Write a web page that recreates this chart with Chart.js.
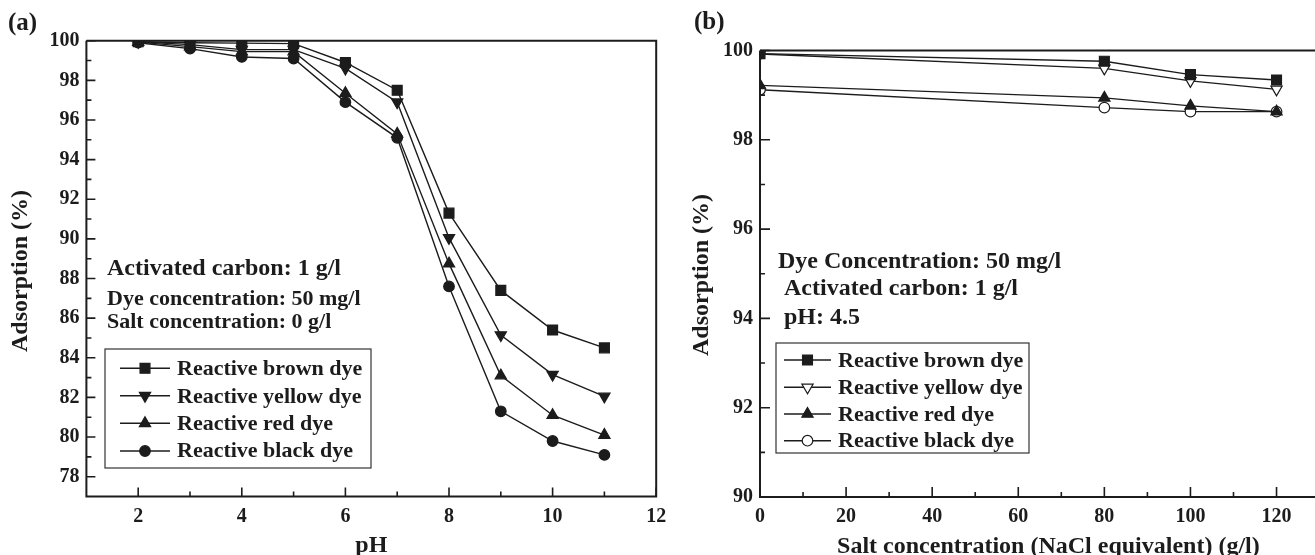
<!DOCTYPE html>
<html><head><meta charset="utf-8">
<script src="https://cdn.jsdelivr.net/npm/chart.js@4.4.0/dist/chart.umd.min.js"></script>
<style>
html,body{margin:0;padding:0;background:#fff;overflow:hidden;width:1315px;height:555px;}
canvas{position:absolute;top:0;}
#cA{left:0;}
#cB{left:690px;}
</style></head><body>
<canvas id="cA" width="680" height="555"></canvas>
<canvas id="cB" width="655" height="555"></canvas>
<script>
const FONT = "'Liberation Serif','Times New Roman',serif";
const INK = '#1c1c1c';

// ---- data ----
const seriesNames = ['Reactive brown dye','Reactive yellow dye','Reactive red dye','Reactive black dye'];

// panel (a): adsorption vs pH
const pHValues = [2,3,4,5,6,7,8,9,10,11];
const brownA  = [99.95,99.90,99.88,99.85,98.90,97.50,91.30,87.40,85.40,84.50];
const yellowA = [99.95,99.80,99.55,99.55,98.60,96.90,90.05,85.15,83.15,82.05];
const redA    = [99.93,99.70,99.45,99.45,97.35,95.30,88.75,83.10,81.10,80.10];
const blackA  = [99.90,99.60,99.18,99.10,96.90,95.10,87.60,81.30,79.80,79.10];

// panel (b): adsorption vs salt concentration
const saltValues = [0,80,100,120];
const brownB  = [99.93,99.76,99.46,99.34];
const yellowB = [99.92,99.60,99.32,99.13];
const redB    = [99.22,98.94,98.76,98.63];
const blackB  = [99.12,98.72,98.63,98.63];

// tick labels
const xTicksA = [2,4,6,8,10,12];
const xMinorA = [3,5,7,9,11];
const yTicksA = [78,80,82,84,86,88,90,92,94,96,98,100];
const yMinorA = [79,81,83,85,87,89,91,93,95,97,99];
const xTicksB = [0,20,40,60,80,100,120];
const xMinorB = [10,30,50,70,90,110,130];
const yTicksB = [90,92,94,96,98,100];
const yMinorB = [91,93,95,97,99];

// ---- styles ----
const stylesA = [
  {pointStyle:'rect', rotation:0, radius:7, fill:INK},
  {pointStyle:'triangle', rotation:180, radius:6.5, fill:INK},
  {pointStyle:'triangle', rotation:0, radius:6.5, fill:INK},
  {pointStyle:'circle', rotation:0, radius:5.3, fill:INK}
];
const stylesB = [
  {pointStyle:'rect', rotation:0, radius:7, fill:INK},
  {pointStyle:'triangle', rotation:180, radius:6.5, fill:'#ffffff'},
  {pointStyle:'triangle', rotation:0, radius:6.5, fill:INK},
  {pointStyle:'circle', rotation:0, radius:5.3, fill:'#ffffff'}
];

function makeDatasets(xs, seriesList, styles){
  return seriesList.map((arr,i)=>({
    label: seriesNames[i],
    data: xs.map((x,j)=>({x:x, y:arr[j]})),
    borderColor: INK, borderWidth: 1.4, tension: 0, fill: false,
    pointStyle: styles[i].pointStyle, pointRotation: styles[i].rotation,
    pointRadius: styles[i].radius, pointHoverRadius: styles[i].radius,
    pointBackgroundColor: styles[i].fill, pointBorderColor: INK, pointBorderWidth: 1.2,
    clip: 0
  }));
}

function drawMarker(ctx, st, x, y){
  const r = st.radius;
  ctx.beginPath();
  if (st.pointStyle === 'rect') {
    const s = Math.SQRT1_2 * r; ctx.rect(x-s, y-s, 2*s, 2*s);
  } else if (st.pointStyle === 'triangle') {
    let rad = st.rotation*Math.PI/180;
    for (let k=0;k<3;k++){
      const px = x + Math.sin(rad)*r, py = y - Math.cos(rad)*r;
      if (k===0) ctx.moveTo(px,py); else ctx.lineTo(px,py);
      rad += 2*Math.PI/3;
    }
    ctx.closePath();
  } else {
    ctx.arc(x, y, r, 0, 2*Math.PI);
  }
  ctx.fillStyle = st.fill; ctx.fill();
  ctx.strokeStyle = INK; ctx.lineWidth = 1.2; ctx.stroke();
}

function panelPlugin(cfg){
  return {
    id: 'panel' + cfg.id,
    afterDraw(chart){
      const ctx = chart.ctx, a = chart.chartArea, xs = chart.scales.x, ys = chart.scales.y;
      ctx.save();
      // frame
      ctx.strokeStyle = INK; ctx.lineWidth = 2;
      ctx.beginPath();
      ctx.moveTo(a.left, a.top); ctx.lineTo(a.left, a.bottom); ctx.lineTo(a.right, a.bottom);
      if (cfg.rightBorder) { ctx.lineTo(a.right, a.top); ctx.lineTo(a.left, a.top); }
      else { ctx.moveTo(a.left, a.top); ctx.lineTo(a.right, a.top); }
      ctx.stroke();
      // ticks (inward)
      ctx.lineWidth = 1.6;
      ctx.beginPath();
      cfg.xMajor.forEach(v=>{ const p = xs.getPixelForValue(v); ctx.moveTo(p, a.bottom); ctx.lineTo(p, a.bottom - cfg.majorLen); });
      cfg.xMinor.forEach(v=>{ const p = xs.getPixelForValue(v); if (p < a.right) { ctx.moveTo(p, a.bottom); ctx.lineTo(p, a.bottom - cfg.minorLen); } });
      cfg.yMajor.forEach(v=>{ const p = ys.getPixelForValue(v); ctx.moveTo(a.left, p); ctx.lineTo(a.left + cfg.majorLen, p); });
      cfg.yMinor.forEach(v=>{ const p = ys.getPixelForValue(v); ctx.moveTo(a.left, p); ctx.lineTo(a.left + cfg.minorLen, p); });
      ctx.stroke();
      // axis titles
      ctx.fillStyle = INK;
      ctx.font = `bold ${cfg.titleSize}px ${FONT}`;
      ctx.textAlign = 'center'; ctx.textBaseline = 'alphabetic';
      ctx.fillText(cfg.xTitle, (a.left + a.right)/2, cfg.xTitleY);
      ctx.save();
      ctx.translate(cfg.yTitleX, cfg.yTitleY); ctx.rotate(-Math.PI/2);
      ctx.textBaseline = 'middle';
      ctx.fillText(cfg.yTitle, 0, 0);
      ctx.restore();
      // panel label
      ctx.textAlign = 'left'; ctx.textBaseline = 'alphabetic';
      ctx.font = `bold ${cfg.labelSize}px ${FONT}`;
      ctx.fillText(cfg.label, cfg.labelX, cfg.labelY);
      // notes
      cfg.notes.forEach(n=>{ ctx.font = `bold ${n.size}px ${FONT}`; ctx.fillText(n.text, n.x, n.y); });
      // legend
      const L = cfg.legend;
      ctx.lineWidth = 1.2; ctx.strokeStyle = '#333';
      ctx.strokeRect(L.x, L.y, L.w, L.h);
      chart.data.datasets.forEach((ds,i)=>{
        const my = L.markY[i];
        ctx.strokeStyle = INK; ctx.lineWidth = 1.4;
        ctx.beginPath(); ctx.moveTo(L.line0, my); ctx.lineTo(L.line1, my); ctx.stroke();
        drawMarker(ctx, cfg.styles[i], L.markX, my);
        ctx.fillStyle = INK; ctx.font = `bold ${L.size}px ${FONT}`;
        ctx.textAlign = 'left'; ctx.textBaseline = 'alphabetic';
        ctx.fillText(ds.label, L.textX, L.baseY[i]);
      });
      ctx.restore();
    }
  };
}

function makeChart(canvasId, cfg){
  const tickFont = {family: FONT, weight: 'bold', size: cfg.tickSize};
  return new Chart(document.getElementById(canvasId), {
    type: 'line',
    data: { datasets: makeDatasets(cfg.xs, cfg.series, cfg.styles) },
    options: {
      responsive: false, animation: false, events: [],
      layout: { padding: { left: 0, top: cfg.padTop, right: cfg.padRight, bottom: 0 } },
      plugins: { legend: {display:false}, tooltip: {enabled:false} },
      scales: {
        x: {
          type: 'linear', min: cfg.xMin, max: cfg.xMax,
          afterFit(s){ s.height = cfg.xAxisH; },
          afterBuildTicks(s){ s.ticks = cfg.xMajor.map(v=>({value:v})); },
          grid: {display:false, drawTicks:false}, border: {display:false},
          ticks: {font: tickFont, color: INK, padding: cfg.xPad, maxRotation: 0, autoSkip: false}
        },
        y: {
          type: 'linear', min: cfg.yMin, max: cfg.yMax,
          afterFit(s){ s.width = cfg.yAxisW; },
          afterBuildTicks(s){ s.ticks = cfg.yMajor.map(v=>({value:v})); },
          grid: {display:false, drawTicks:false}, border: {display:false},
          ticks: {font: tickFont, color: INK, padding: cfg.yPad, autoSkip: false}
        }
      }
    },
    plugins: [panelPlugin(cfg)]
  });
}

makeChart('cA', {
  id: 'A', xs: pHValues, series: [brownA, yellowA, redA, blackA], styles: stylesA,
  xMin: 1, xMax: 12, yMin: 77, yMax: 100,
  xMajor: xTicksA, xMinor: xMinorA, yMajor: yTicksA, yMinor: yMinorA,
  padTop: 40.7, padRight: 23.8, xAxisH: 58.5, yAxisW: 86.4,
  tickSize: 20, xPad: 8, yPad: 7, majorLen: 9, minorLen: 5,
  rightBorder: true,
  titleSize: 24, xTitle: 'pH', xTitleY: 552, yTitle: 'Adsorption (%)', yTitleX: 21, yTitleY: 271,
  label: '(a)', labelSize: 25, labelX: 8, labelY: 30,
  notes: [
    {text:'Activated carbon: 1 g/l', x:107, y:275, size:24},
    {text:'Dye concentration: 50 mg/l', x:107, y:305, size:22},
    {text:'Salt concentration: 0 g/l', x:107, y:328, size:22}
  ],
  legend: {x:105, y:349, w:266, h:119, line0:120, line1:170, markX:145, textX:177,
           markY:[368.3,395.7,423.3,451], baseY:[375,402.7,430,457.3], size:22}
});

makeChart('cB', {
  id: 'B', xs: saltValues, series: [brownB, yellowB, redB, blackB], styles: stylesB,
  xMin: 0, xMax: 134, yMin: 90, yMax: 100,
  xMajor: xTicksB, xMinor: xMinorB, yMajor: yTicksB, yMinor: yMinorB,
  padTop: 50.5, padRight: 7.5, xAxisH: 58, yAxisW: 70,
  tickSize: 20, xPad: 8, yPad: 7, majorLen: 10, minorLen: 5,
  rightBorder: false,
  titleSize: 24, xTitle: 'Salt concentration (NaCl equivalent) (g/l)', xTitleY: 553,
  yTitle: 'Adsorption (%)', yTitleX: 12, yTitleY: 275,
  label: '(b)', labelSize: 25, labelX: 4, labelY: 29,
  notes: [
    {text:'Dye Concentration: 50 mg/l', x:88, y:268, size:24},
    {text:'Activated carbon: 1 g/l', x:94, y:295, size:24},
    {text:'pH: 4.5', x:94, y:324, size:24}
  ],
  legend: {x:86, y:343, w:253, h:110, line0:94, line1:141, markX:117.5, textX:148,
           markY:[360,387.3,414,440.7], baseY:[366.7,394,420.7,447.3], size:22}
});
</script>
</body></html>
